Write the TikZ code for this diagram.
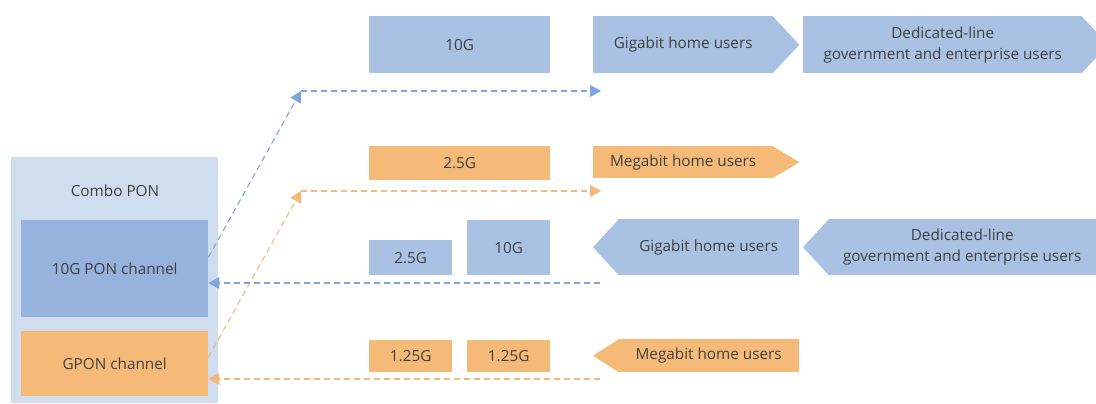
\documentclass[tikz,border=0pt]{standalone}
\usepackage{fontspec}
\setmainfont{Open Sans}
\usetikzlibrary{arrows.meta}
\definecolor{bluebox}{HTML}{A9C2E3}
\definecolor{bluech}{HTML}{95B3DD}
\definecolor{comboback}{HTML}{D0DDEF}
\definecolor{orangebox}{HTML}{F6BA78}
\definecolor{bluedash}{HTML}{7FA6DA}
\definecolor{orangedash}{HTML}{F6B878}
\definecolor{txt}{HTML}{404040}
\begin{document}
\begin{tikzpicture}[x=1pt,y=-1pt,
  lbl/.style={text=txt, font=\fontsize{15.3}{21}\selectfont, align=center},
  box/.style={lbl, inner sep=0pt, anchor=north west, minimum width=#1},
  dashline/.style={dash pattern=on 6pt off 4pt, line width=1.1pt},
  tip/.style={-{Triangle[length=11pt,width=12pt]}},
]
\useasboundingbox (0,0) rectangle (1096,404);
\clip (0,0) rectangle (1096,404);

% Combo PON with its two channels
\node[box=207pt, fill=comboback, minimum height=246pt] (combo) at (11,157) {};
\node[lbl] (combolbl) at (115,191) {Combo PON};
\node[box=187pt, fill=bluech, minimum height=97pt] (ch10) at (21,220) {10G PON channel};
\node[box=187pt, fill=orangebox, minimum height=65pt] (gpon) at (21,331) {GPON channel};

% Downstream, 10G
\node[box=181pt, fill=bluebox, minimum height=57pt] (d10) at (369,16) {10G};
\node[box=180pt, fill=bluebox, minimum height=57pt] (dgig) at (593,16) {Gigabit home users};
\fill[bluebox] ([xshift=-1pt]dgig.north east) -- ([xshift=26pt]dgig.east) -- ([xshift=-1pt]dgig.south east) -- cycle;
\node[box=279pt, fill=bluebox, minimum height=57pt] (dded) at (803,16) {Dedicated-line\\government and enterprise users};
\fill[bluebox] ([xshift=-1pt]dded.north east) -- ([xshift=26pt]dded.east) -- ([xshift=-1pt]dded.south east) -- cycle;

% Downstream, GPON
\node[box=181pt, fill=orangebox, minimum height=34pt] (d25) at (369,146) {2.5G};
\node[box=180pt, fill=orangebox, minimum height=32pt] (dmeg) at (593,146) {Megabit home users};
\fill[orangebox] ([xshift=-1pt]dmeg.north east) -- ([xshift=26pt]dmeg.east) -- ([xshift=-1pt]dmeg.south east) -- cycle;

% Upstream, 10G
\node[box=83pt, fill=bluebox, minimum height=35pt] (u25) at (369,240) {2.5G};
\node[box=83pt, fill=bluebox, minimum height=55pt] (u10) at (467,220) {10G};
\node[box=181pt, fill=bluebox, minimum height=56pt] (ugig) at (618,219) {Gigabit home users};
\fill[bluebox] ([xshift=1pt]ugig.north west) -- ([xshift=-25pt]ugig.west) -- ([xshift=1pt]ugig.south west) -- cycle;
\node[box=268pt, fill=bluebox, minimum height=56pt] (uded) at (828,219) {Dedicated-line\\government and enterprise users};
\fill[bluebox] ([xshift=1pt]uded.north west) -- ([xshift=-25pt]uded.west) -- ([xshift=1pt]uded.south west) -- cycle;

% Upstream, GPON
\node[box=83pt, fill=orangebox, minimum height=32pt] (u125a) at (369,340) {1.25G};
\node[box=83pt, fill=orangebox, minimum height=32pt] (u125b) at (467,340) {1.25G};
\node[box=181pt, fill=orangebox, minimum height=33pt] (umeg) at (618,339) {Megabit home users};
\fill[orangebox] ([xshift=1pt]umeg.north west) -- ([xshift=-25pt]umeg.west) -- ([xshift=1pt]umeg.south west) -- cycle;

% Connector end points
\coordinate (bcorner) at (301,91);
\coordinate (bend) at (601,91);
\coordinate (ocorner) at (301,191);
\coordinate (oend) at (601,191);
\coordinate (bret) at (600,283);
\coordinate (oret) at (600,379);

% Downstream connectors
\draw[dashline, bluedash, tip] ([yshift=11.5pt]ch10.east) -- (bcorner);
\draw[dashline, bluedash, tip] (bcorner) -- (bend);
\draw[dashline, orangedash, tip] ([yshift=6.5pt]gpon.east) -- (ocorner);
\draw[dashline, orangedash, tip] (ocorner) -- (oend);

% Upstream connectors
\draw[dashline, bluedash, tip] (bret) -- (ch10.east |- bret);
\draw[dashline, orangedash, tip] (oret) -- (gpon.east |- oret);
\end{tikzpicture}
\end{document}
